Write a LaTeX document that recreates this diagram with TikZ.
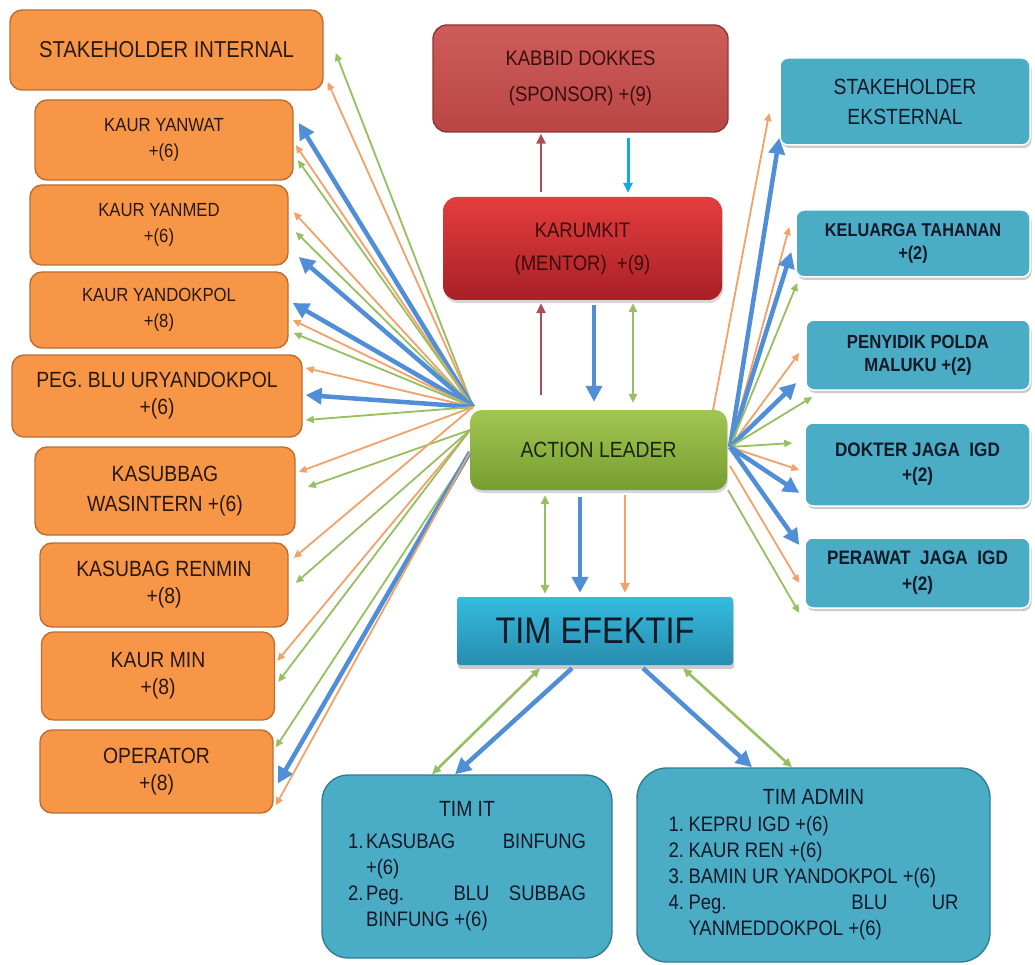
\documentclass[tikz,border=0pt]{standalone}
\usepackage{fontspec}
\setmainfont{Liberation Sans}[FakeStretch=0.88]
\usetikzlibrary{arrows.meta,shadows,calc}
\definecolor{orgf}{RGB}{247,150,70}
\definecolor{orgd}{RGB}{190,110,50}
\definecolor{otext}{RGB}{40,25,15}
\definecolor{ol}{RGB}{242,162,105}
\definecolor{gl}{RGB}{150,192,95}
\definecolor{bl}{RGB}{80,142,216}
\definecolor{rl}{RGB}{170,80,85}
\definecolor{lbl}{RGB}{20,170,225}
\definecolor{tealf}{RGB}{75,172,198}
\definecolor{teald}{RGB}{50,125,150}
\definecolor{btext}{RGB}{20,25,40}
\newcommand\fsz[2]{\fontsize{#1}{#2}\selectfont}
\begin{document}
\begin{tikzpicture}[x=1pt,y=-1pt,
  every node/.style={inner sep=0pt, align=center},
  obox/.style={draw=orgd, line width=1.4pt, fill=orgf, rounded corners=12pt, text=otext},
  rbox/.style={draw=white, line width=1.5pt, fill=tealf, rounded corners=8pt, text=btext,
     drop shadow={shadow xshift=1.5pt, shadow yshift=-3pt, fill=black!40, opacity=0.5}},
  tbox/.style={draw=teald, line width=1.4pt, fill=tealf, rounded corners=26pt, text=btext},
  tarr/.style={line width=1.8pt, -{Triangle[length=8pt,width=7pt]}},
  varr/.style={line width=2.6pt, -{Triangle[length=10pt,width=9pt]}},
  darr/.style={line width=1.8pt, {Triangle[length=8pt,width=7pt]}-{Triangle[length=8pt,width=7pt]}},
  dvarr/.style={line width=2.6pt, {Triangle[length=9pt,width=8pt]}-{Triangle[length=9pt,width=8pt]}},
  barr/.style={draw=bl, line width=4.5pt, -{Triangle[length=16pt,width=16pt]}},
]
\useasboundingbox (0,0) rectangle (1035,965);
\fill[white] (0,0) rectangle (1035,965);

% left column
\node[obox, minimum width=313pt, minimum height=80pt, font=\fsz{23}{28}] (stint) at (166.5,50) {STAKEHOLDER INTERNAL};
\node[obox, minimum width=258pt, minimum height=80pt, font=\fsz{19}{26}] (yanwat) at (164,140) {KAUR YANWAT\\+(6)};
\node[obox, minimum width=258pt, minimum height=80pt, font=\fsz{19}{26}] (yanmed) at (159,225) {KAUR YANMED\\+(6)};
\node[obox, minimum width=258pt, minimum height=76pt, font=\fsz{19}{26}] (yandok) at (159,310) {KAUR YANDOKPOL\\+(8)};
\node[obox, minimum width=290pt, minimum height=82pt, font=\fsz{22}{27}] (pegblu) at (157,396) {PEG. BLU URYANDOKPOL\\+(6)};
\node[obox, minimum width=260pt, minimum height=88pt, font=\fsz{22}{30}] (wasin) at (165,491) {KASUBBAG\\WASINTERN +(6)};
\node[obox, minimum width=248pt, minimum height=84pt, font=\fsz{22}{27}] (renmin) at (164,585) {KASUBAG RENMIN\\+(8)};
\node[obox, minimum width=233pt, minimum height=88pt, font=\fsz{22}{27}] (kaurmin) at (158,676) {KAUR MIN\\+(8)};
\node[obox, minimum width=233pt, minimum height=83pt, font=\fsz{22}{27}] (operator) at (156.5,771.5) {OPERATOR\\+(8)};

% middle column
\node[draw={rgb,255:red,140;green,56;blue,54}, line width=1.4pt, rounded corners=14pt,
      top color={rgb,255:red,205;green,92;blue,90}, bottom color={rgb,255:red,185;green,70;blue,68},
      minimum width=295pt, minimum height=107pt, text={rgb,255:red,55;green,15;blue,15}, font=\fsz{21}{36}] (kabbid) at (580.5,78.5) {KABBID DOKKES\\(SPONSOR) +(9)};
\node[rounded corners=14pt, top color={rgb,255:red,228;green,62;blue,62}, bottom color={rgb,255:red,168;green,32;blue,38},
      drop shadow={shadow xshift=1pt, shadow yshift=-3pt, fill=black!40, opacity=0.4},
      minimum width=279pt, minimum height=103pt, text={rgb,255:red,60;green,10;blue,10}, font=\fsz{21}{33}] (karum) at (582.5,248.5) {KARUMKIT\\(MENTOR)\ \ +(9)};
\node[rounded corners=12pt, top color={rgb,255:red,162;green,198;blue,82}, bottom color={rgb,255:red,118;green,158;blue,48},
      drop shadow={shadow xshift=1pt, shadow yshift=-3pt, fill=black!40, opacity=0.4},
      minimum width=257pt, minimum height=80pt, text={rgb,255:red,30;green,35;blue,20}, font=\fsz{22}{26}] (action) at (598.5,450) {ACTION LEADER};
\node[rounded corners=3pt, top color={rgb,255:red,52;green,188;blue,222}, bottom color={rgb,255:red,40;green,140;blue,175},
      drop shadow={shadow xshift=1pt, shadow yshift=-4pt, fill=black!45, opacity=0.45},
      minimum width=276pt, minimum height=68pt, text=btext, font=\fsz{37}{40}] (efektif) at (595,631) {TIM EFEKTIF};

\node[tbox, minimum width=290pt, minimum height=183pt, font=\fsz{21}{26}] (timit) at (467,866.5) {%
 {\fsz{22}{26}TIM IT}\\[6pt]
 \makebox[18pt][l]{1.}\makebox[220pt][s]{KASUBAG BINFUNG}\\
 \makebox[238pt][l]{\hspace{18pt}+(6)}\\
 \makebox[18pt][l]{2.}\makebox[220pt][s]{Peg. BLU SUBBAG}\\
 \makebox[238pt][l]{\hspace{18pt}BINFUNG +(6)}};
\node[tbox, rounded corners=30pt, minimum width=353pt, minimum height=194pt, font=\fsz{21}{26}] (timadmin) at (813.5,865) {%
 {\fsz{22}{26}TIM ADMIN}\\[1pt]
 \makebox[20pt][l]{1.}\makebox[270pt][l]{KEPRU IGD +(6)}\\
 \makebox[20pt][l]{2.}\makebox[270pt][l]{KAUR REN +(6)}\\
 \makebox[20pt][l]{3.}\makebox[270pt][l]{BAMIN UR YANDOKPOL +(6)}\\
 \makebox[20pt][l]{4.}\makebox[270pt][s]{Peg. BLU UR}\\
 \makebox[290pt][l]{\hspace{20pt}YANMEDDOKPOL +(6)}};

% right column
\node[rbox, minimum width=250pt, minimum height=87pt, font=\fsz{22}{30}] (stek) at (905,101.5) {STAKEHOLDER\\EKSTERNAL};
\node[rbox, minimum width=234pt, minimum height=67pt, font=\bfseries\fsz{18.5}{23}] (kelu) at (913,243.5) {KELUARGA TAHANAN\\+(2)};
\node[rbox, minimum width=224pt, minimum height=70pt, font=\bfseries\fsz{19}{23}] (peny) at (918,355) {PENYIDIK POLDA\\MALUKU +(2)};
\node[rbox, minimum width=225pt, minimum height=83pt, font=\bfseries\fsz{19.5}{25}] (dokter) at (917.5,464.5) {DOKTER JAGA\ \ IGD\\+(2)};
\node[rbox, minimum width=225pt, minimum height=70pt, font=\bfseries\fsz{19.5}{26}] (perawat) at (917.5,573) {PERAWAT\ \ JAGA\ \ IGD\\+(2)};

% hubs
\coordinate (hl) at (473,407);
\coordinate (hl2) at (470,430);
\coordinate (hl3) at (470,452);
\coordinate (hr) at (730,447);
\coordinate (hrt) at (713,410);
\coordinate (hr2) at (730,466);
\coordinate (hr3) at (728,490);

% left fan
\draw[tarr, draw=gl] (hl) -- ($(stint.east)+(12,3)$);
\draw[tarr, draw=ol] (hl) -- ($(stint.east)+(4,32)$);
\draw[barr] (hl) -- ($(yanwat.east)+(5,-17)$);
\draw[tarr, draw=ol] (hl) -- ($(yanwat.east)+(2,5)$);
\draw[tarr, draw=gl] (hl) -- ($(yanwat.east)+(4,20)$);
\draw[tarr, draw=ol] (hl) -- ($(yanmed.east)+(5,-13)$);
\draw[tarr, draw=gl] (hl) -- ($(yanmed.east)+(7,7)$);
\draw[barr] (hl) -- ($(yanmed.east)+(10,32)$);
\draw[barr] (hl) -- ($(yandok.east)+(4,-7)$);
\draw[tarr, draw=ol] (hl) -- ($(yandok.east)+(4,10)$);
\draw[tarr, draw=gl] (hl) -- ($(yandok.east)+(5,23)$);
\draw[tarr, draw=ol] (hl) -- ($(pegblu.east)+(3,-28)$);
\draw[barr] (hl) -- ($(pegblu.east)+(3,-1)$);
\draw[tarr, draw=gl] (hl) -- ($(pegblu.east)+(3,24)$);
\draw[tarr, draw=ol] (hl) -- ($(wasin.east)+(3,-19)$);
\draw[tarr, draw=gl] (hl2) -- ($(wasin.east)+(12,-4)$);
\draw[tarr, draw=ol] (hl) -- ($(renmin.east)+(5,-27)$);
\draw[tarr, draw=gl] (hl2) -- ($(renmin.east)+(7,-2)$);
\draw[tarr, draw=ol] (hl2) -- ($(kaurmin.east)+(2,-15)$);
\draw[tarr, draw=gl] (hl2) -- ($(kaurmin.east)+(3,6)$);
\draw[tarr, draw=gl] (hl3) -- ($(operator.east)+(2,-24)$);
\draw[barr] (hl3) -- ($(operator.east)+(4,12)$);
\draw[tarr, draw=ol] (hl3) -- ($(operator.east)+(2,34)$);

% right fan
\draw[tarr, draw=ol] (hrt) -- ($(stek.west)+(-10,11.5)$);
\draw[barr] (hr) -- ($(stek.west)+(0,36.5)$);
\draw[tarr, draw=ol] (hr) -- ($(kelu.west)+(-6,-16.5)$);
\draw[barr] (hr) -- ($(kelu.west)+(-4,8.5)$);
\draw[tarr, draw=gl] (hr) -- ($(kelu.west)+(2,39.5)$);
\draw[tarr, draw=ol] (hr) -- ($(peny.west)+(-6,-2)$);
\draw[barr] (hr) -- ($(peny.west)+(-9,28)$);
\draw[tarr, draw=gl] (hr) -- ($(peny.west)+(7,42)$);
\draw[tarr, draw=gl] (hr) -- ($(dokter.west)+(-12,-21.5)$);
\draw[tarr, draw=ol] (hr) -- ($(dokter.west)+(-5,5.5)$);
\draw[barr] (hr) -- ($(dokter.west)+(-5,28.5)$);
\draw[barr] (hr) -- ($(perawat.west)+(-5,-28)$);
\draw[tarr, draw=ol] (hr2) -- ($(perawat.west)+(-5,10)$);
\draw[tarr, draw=gl] (hr3) -- ($(perawat.west)+(-5,40)$);

% vertical links
\draw[varr, draw=rl] ($(karum.north)+(-41.5,-5)$) -- ($(kabbid.south)+(-39.5,1)$);
\draw[varr, draw=lbl, line width=3pt] ($(kabbid.south)+(47.5,5)$) -- ($(karum.north)+(45.5,-4)$);
\draw[varr, draw=rl] ($(action.north)+(-57.5,-15)$) -- ($(karum.south)+(-41.5,3)$);
\draw[barr, line width=3.8pt] ($(karum.south)+(11.5,5)$) -- ($(action.north)+(-4.5,-8)$);
\draw[dvarr, draw=gl] ($(karum.south)+(50.5,3)$) -- ($(action.north)+(34.5,-7)$);
\draw[dvarr, draw=gl] ($(action.south)+(-53.5,5)$) -- ($(efektif.north)+(-50,-3)$);
\draw[barr, line width=3.8pt] ($(action.south)+(-18.5,7)$) -- ($(efektif.north)+(-15,-4)$);
\draw[varr, draw=ol] ($(action.south)+(26.5,5)$) -- ($(efektif.north)+(30,-4)$);
\draw[dvarr, draw=gl] ($(efektif.south)+(-55,3)$) -- ($(timit.north)+(-35,0)$);
\draw[barr] ($(efektif.south)+(-23,3)$) -- ($(timit.north)+(-12,0)$);
\draw[barr] ($(efektif.south)+(48,3)$) -- ($(timadmin.north)+(-61.5,0)$);
\draw[dvarr, draw=gl] ($(efektif.south)+(88,3)$) -- ($(timadmin.north)+(-21.5,0)$);
\end{tikzpicture}
\end{document}
